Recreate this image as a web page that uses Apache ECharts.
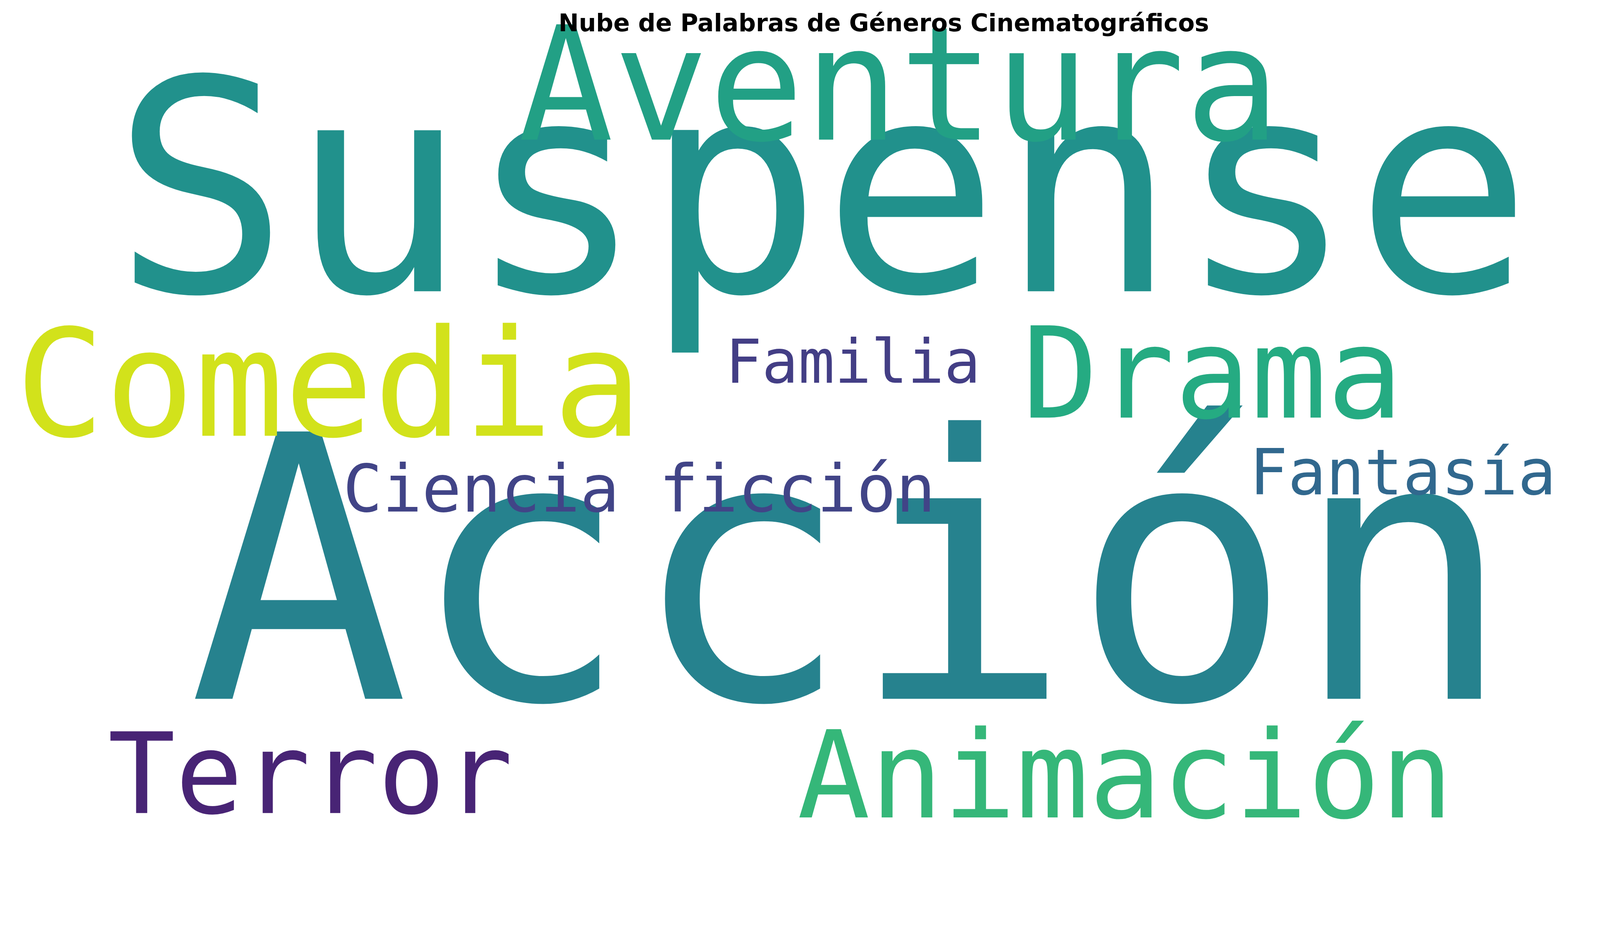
<!DOCTYPE html>
<html>
<head>
<meta charset="utf-8">
<script src="https://cdn.jsdelivr.net/npm/echarts@6/dist/echarts.min.js"></script>
<style>
  html, body { margin: 0; padding: 0; background: #fff; }
  #main { width: 4525px; height: 2371px; }
</style>
</head>
<body>
<div id="main"></div>
<script>
// palabras y su peso (tamaño relativo en la nube)
var words   = ['Suspense', 'Acción', 'Aventura', 'Comedia', 'Drama', 'Familia', 'Ciencia ficción', 'Fantasía', 'Terror', 'Animación'];
var weights = [287, 357, 154, 145, 123, 59, 64, 62, 109, 118];
var colors  = ['#21918c', '#26828e', '#22a085', '#d2e21b', '#25ab82', '#433e85', '#414487', '#31688e', '#482475', '#35b779'];
// posición de cada palabra en la nube (centro, en unidades del lienzo)
var posX = [800, 828, 875, 320, 1180, 830, 622, 1365, 302, 1095];
var posY = [207, 582, 95, 383, 371, 354, 477, 461, 756, 758];

var W = 1720, H = 893;
var scale = 4525 / W;
var chart = echarts.init(document.getElementById('main'));

var data = words.map(function (w, i) {
  return {
    name: w,
    value: [posX[i], posY[i]],
    label: { fontSize: Math.round(weights[i] * scale), color: colors[i] }
  };
});

chart.setOption({
  backgroundColor: '#fff',
  title: {
    text: 'Nube de Palabras de Géneros Cinematográficos',
    left: 'center',
    top: 28,
    textStyle: { fontFamily: 'DejaVu Sans', fontWeight: 'bold', fontSize: 62, color: '#000' }
  },
  grid: { left: 0, right: 0, top: 0, bottom: 0 },
  xAxis: { type: 'value', min: 0, max: W, show: false },
  yAxis: { type: 'value', min: 0, max: H, inverse: true, show: false },
  series: [{
    type: 'scatter',
    symbolSize: 0,
    silent: true,
    itemStyle: { opacity: 1 },
    label: {
      show: true,
      position: 'inside',
      formatter: '{b}',
      fontFamily: 'DejaVu Sans Mono',
      opacity: 1,
      align: 'center',
      verticalAlign: 'middle'
    },
    data: data
  }]
});
</script>
</body>
</html>
